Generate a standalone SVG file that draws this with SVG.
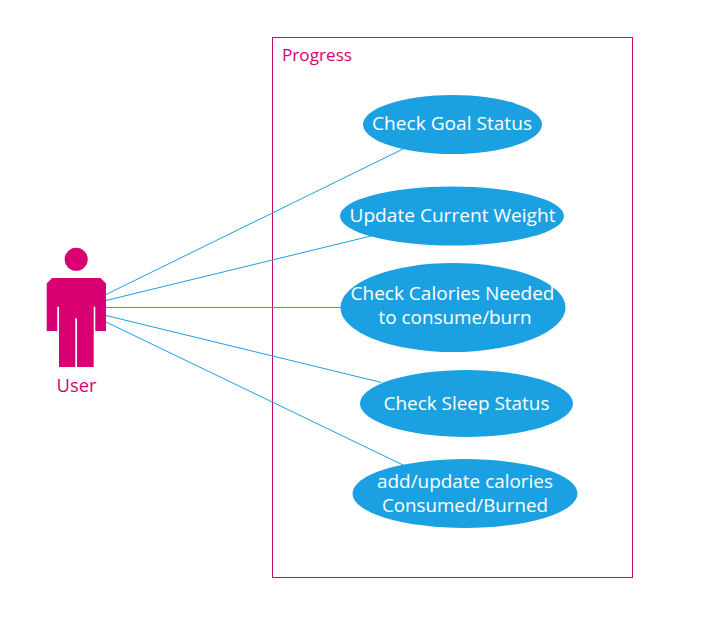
<svg xmlns="http://www.w3.org/2000/svg" width="715" height="618" viewBox="0 0 715 618">
<style>
text{font-family:"Open Sans","Noto Sans","Liberation Sans",sans-serif}
.uc{fill:#1ba1e2}
.ut{fill:#fff;font-size:18px;text-anchor:middle}
.pk{fill:#d80073}
.c{stroke:#1ba1e2;stroke-width:1;fill:none}
</style>
<rect width="715" height="618" fill="#fff"/>
<g id="boundary">
<rect x="272.5" y="37.5" width="360" height="540" fill="none" stroke="#c30a6d"/>
<text x="282" y="61" class="pk" font-size="15.5" textLength="70" lengthAdjust="spacingAndGlyphs">Progress</text>
</g>
<g id="connectors">
<line class="c" x1="106" y1="294.500" x2="403" y2="149"/>
<line class="c" x1="106" y1="300.500" x2="371" y2="236"/>
<line class="c" x1="106" y1="307.500" x2="341" y2="307.500"/>
<line class="c" x1="106" y1="315.500" x2="381.500" y2="382.500"/>
<line class="c" x1="106" y1="322" x2="403" y2="465"/>
</g>
<g id="user">
<circle class="pk" cx="76.2" cy="259.3" r="11.5"/>
<path class="pk" d="M52 278H100.500L106 283.500V331H95.300V306.700H93.700V367H77V318.300H75.300V367H59V306.700H57.300V331H46.700V283.500Z"/>
<text x="76.500" y="392" class="pk" font-size="18" text-anchor="middle" textLength="40" lengthAdjust="spacingAndGlyphs">User</text>
</g>
<g id="uc1">
<ellipse class="uc" cx="452.500" cy="124.500" rx="89.500" ry="29.500"/>
<text class="ut" x="452" y="130" textLength="160" lengthAdjust="spacingAndGlyphs">Check Goal Status</text>
</g>
<g id="uc2">
<ellipse class="uc" cx="452" cy="216" rx="112" ry="29.500"/>
<text class="ut" x="452.500" y="222" textLength="206" lengthAdjust="spacingAndGlyphs">Update Current Weight</text>
</g>
<g id="uc3">
<ellipse class="uc" cx="453" cy="307.500" rx="112.500" ry="44.500"/>
<text class="ut" x="452.500" y="300" textLength="204" lengthAdjust="spacingAndGlyphs">Check Calories Needed</text>
<text class="ut" x="455" y="324" textLength="153" lengthAdjust="spacingAndGlyphs">to consume/burn</text>
</g>
<g id="uc4">
<ellipse class="uc" cx="466.500" cy="403.500" rx="106.500" ry="33.500"/>
<text class="ut" x="466.500" y="410" textLength="166" lengthAdjust="spacingAndGlyphs">Check Sleep Status</text>
</g>
<g id="uc5">
<ellipse class="uc" cx="465" cy="493.500" rx="112.500" ry="34.500"/>
<text class="ut" x="465" y="488" textLength="176" lengthAdjust="spacingAndGlyphs">add/update calories</text>
<text class="ut" x="465" y="512" textLength="166" lengthAdjust="spacingAndGlyphs">Consumed/Burned</text>
</g>
</svg>
